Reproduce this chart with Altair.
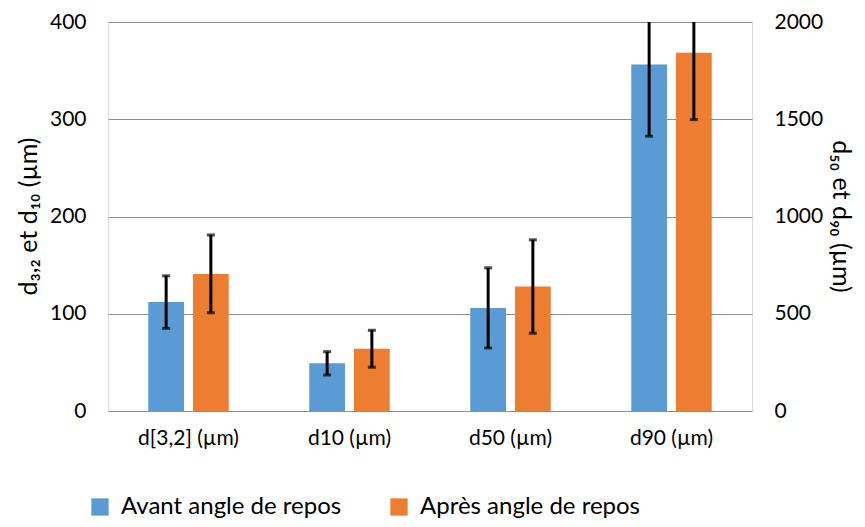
import altair as alt
import pandas as pd

categories = ["d[3,2] (µm)", "d10 (µm)", "d50 (µm)", "d90 (µm)"]
series = ["Avant angle de repos", "Après angle de repos"]
colors = ["#5B9BD5", "#ED7D31"]

# values: d[3,2] and d10 on left axis (0-400), d50 and d90 on right axis (0-2000)
avant_values = [112, 49, 530, 1782]
avant_errors = [27, 12, 206, 369]
apres_values = [141, 64, 640, 1842]
apres_errors = [40, 19, 240, 344]

left_cats = categories[:2]
right_cats = categories[2:]

rows = []
for i, c in enumerate(categories):
    for s, vals, errs in ((series[0], avant_values, avant_errors), (series[1], apres_values, apres_errors)):
        rows.append({"cat": c, "series": s, "value": vals[i],
                     "lo": vals[i] - errs[i], "hi": vals[i] + errs[i]})
df = pd.DataFrame(rows)

FONT = "Lato"

x_enc = alt.X("cat:N", sort=categories,
              scale=alt.Scale(paddingInner=0.5, paddingOuter=0.25),
              axis=alt.Axis(title=None, labelAngle=0, ticks=False, domain=False,
                            labelFontSize=21, labelPadding=16, labelColor="#000000",
                            labelFont=FONT))
xo_enc = alt.XOffset("series:N", sort=series,
                     scale=alt.Scale(paddingInner=0.2, paddingOuter=0))
color_enc = alt.Color("series:N", sort=series,
                      scale=alt.Scale(domain=series, range=colors),
                      legend=alt.Legend(orient="none", legendX=-20, legendY=473,
                                        direction="horizontal", title=None,
                                        symbolType="square", symbolSize=300,
                                        symbolStrokeWidth=0, labelFontSize=24,
                                        labelFont=FONT, labelColor="#000000",
                                        columnPadding=45, labelLimit=500,
                                        labelOffset=9,
                                        symbolOffset=0, padding=0))

left_axis = alt.Axis(title="d₃,₂ et d₁₀ (µm)", values=[0, 100, 200, 300, 400],
                     format="d",
                     grid=True, gridColor="#8f8f8f", gridWidth=1, ticks=False,
                     domain=False, labelFontSize=21, labelPadding=22,
                     labelColor="#000000", labelFont=FONT,
                     titleFontSize=25, titleFont=FONT, titleFontWeight="normal",
                     titleColor="#000000", titleX=-80, titleY=194,
                     titleAngle=-90, titleAlign="center", titleBaseline="middle")
right_axis = alt.Axis(title="d₅₀ et d₉₀ (µm)", orient="right",
                      values=[0, 500, 1000, 1500, 2000], format="d",
                      grid=False, ticks=False, domain=False, labelFontSize=21,
                      labelPadding=22, labelColor="#000000", labelFont=FONT,
                      titleFontSize=25, titleFont=FONT, titleFontWeight="normal",
                      titleColor="#000000", titleX=88, titleY=194,
                      titleAngle=90, titleAlign="center", titleBaseline="middle")

left_scale = alt.Scale(domain=[0, 400])
right_scale = alt.Scale(domain=[0, 2000])


def make_layer(cats, scale, axis):
    base = alt.Chart(df).transform_filter(alt.FieldOneOfPredicate(field="cat", oneOf=cats))
    bars = base.mark_bar(clip=True).encode(
        x=x_enc, xOffset=xo_enc, color=color_enc,
        y=alt.Y("value:Q", scale=scale, axis=axis))
    rules = base.mark_rule(color="#000000", strokeWidth=3, clip=True).encode(
        x=x_enc, xOffset=xo_enc,
        y=alt.Y("lo:Q", scale=scale, axis=axis), y2="hi:Q")
    cap_lo = base.mark_tick(color="#000000", thickness=3, size=8, clip=True).encode(
        x=x_enc, xOffset=xo_enc, y=alt.Y("lo:Q", scale=scale, axis=axis))
    cap_hi = base.mark_tick(color="#000000", thickness=3, size=8, clip=True).encode(
        x=x_enc, xOffset=xo_enc, y=alt.Y("hi:Q", scale=scale, axis=axis))
    return alt.layer(bars, rules, cap_lo, cap_hi)


left_layer = make_layer(left_cats, left_scale, left_axis)
right_layer = make_layer(right_cats, right_scale, right_axis)

chart = alt.layer(left_layer, right_layer).resolve_scale(y="independent").properties(
    width=644, height=389,
    autosize=alt.AutoSizeParams(type="none"),
    padding={"left": 100, "top": 14, "right": 105, "bottom": 108},
).configure_view(stroke="#8c8c8c", strokeWidth=1.2).configure(background="white")

chart.save("out.html", embed_options={"renderer": "svg", "actions": False})
